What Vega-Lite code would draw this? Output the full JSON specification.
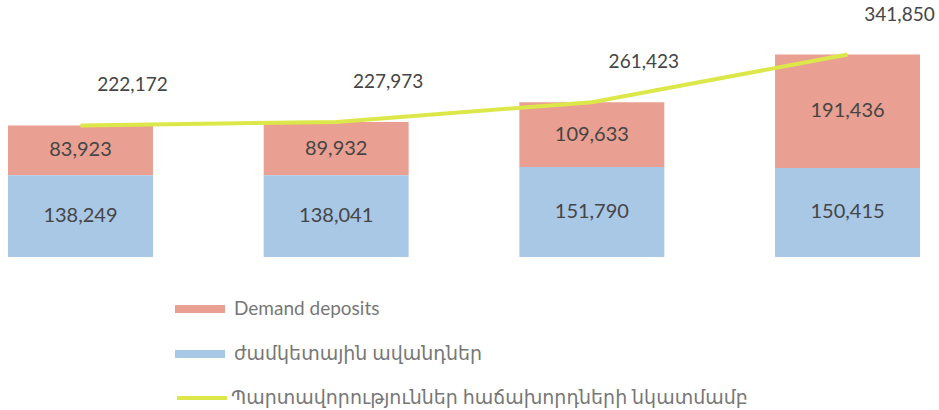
{
  "$schema": "https://vega.github.io/schema/vega-lite/v6.json",
  "width": 939,
  "height": 257,
  "autosize": {"type": "none"},
  "padding": {"left": 0, "top": 0, "right": 0, "bottom": 153},
  "background": "white",
  "config": {"view": {"stroke": null}, "font": "Lato"},
  "datasets": {
    "bars": [
      {"period": "1", "series": "Demand deposits", "ord": 2, "value": 83923},
      {"period": "1", "series": "ժամկետային ավանդներ", "ord": 1, "value": 138249},
      {"period": "2", "series": "Demand deposits", "ord": 2, "value": 89932},
      {"period": "2", "series": "ժամկետային ավանդներ", "ord": 1, "value": 138041},
      {"period": "3", "series": "Demand deposits", "ord": 2, "value": 109633},
      {"period": "3", "series": "ժամկետային ավանդներ", "ord": 1, "value": 151790},
      {"period": "4", "series": "Demand deposits", "ord": 2, "value": 191436},
      {"period": "4", "series": "ժամկետային ավանդներ", "ord": 1, "value": 150415}
    ],
    "totals": [
      {"period": "1", "total": 222172},
      {"period": "2", "total": 227973},
      {"period": "3", "total": 261423},
      {"period": "4", "total": 341850}
    ]
  },
  "layer": [
    {
      "data": {"name": "bars"},
      "mark": {"type": "bar"},
      "encoding": {
        "x": {"field": "period", "type": "nominal", "axis": null, "scale": {"range": [0, 928], "paddingInner": 0.433, "paddingOuter": 0.0313}},
        "y": {"field": "value", "type": "quantitative", "stack": "zero", "axis": null, "scale": {"domain": [0, 434000], "nice": false}},
        "fill": {
          "field": "series", "type": "nominal",
          "scale": {"domain": ["Demand deposits", "ժամկետային ավանդներ"], "range": ["#e9a092", "#a9c8e6"]},
          "legend": {
            "orient": "none", "legendX": 175, "legendY": 284, "title": null, "direction": "vertical",
            "symbolType": "M-1,-0.16H1V0.16H-1Z", "symbolSize": 2500, "symbolStrokeWidth": 0,
            "labelFontSize": 19, "labelColor": "#777777", "labelFont": "Lato, DejaVu Sans",
            "labelOffset": 9, "rowPadding": 10, "labelLimit": 700
          }
        },
        "order": {"field": "ord", "type": "quantitative"}
      }
    },
    {
      "data": {"name": "bars"},
      "mark": {"type": "text", "fontSize": 20, "color": "#454545", "font": "Lato"},
      "encoding": {
        "x": {"field": "period", "type": "nominal"},
        "y": {"field": "value", "type": "quantitative", "stack": "zero", "bandPosition": 0.5},
        "detail": {"field": "series"},
        "order": {"field": "ord", "type": "quantitative"},
        "text": {"field": "value", "type": "quantitative", "format": ",d"}
      }
    },
    {
      "data": {"name": "totals"},
      "mark": {"type": "line", "strokeWidth": 4},
      "encoding": {
        "x": {"field": "period", "type": "nominal"},
        "y": {"field": "total", "type": "quantitative"},
        "stroke": {
          "datum": "Պարտավորություններ հաճախորդների նկատմամբ", "type": "nominal",
          "scale": {"range": ["#dce84a"]},
          "legend": {
            "orient": "none", "legendX": 175, "legendY": 371, "title": null,
            "symbolType": "M-1,0H1", "symbolSize": 2500, "symbolStrokeWidth": 4,
            "labelFontSize": 19, "labelColor": "#777777", "labelFont": "Lato, DejaVu Sans",
            "labelOffset": 2, "labelLimit": 800
          }
        }
      }
    },
    {
      "data": {"name": "totals"},
      "mark": {"type": "text", "fontSize": 19, "color": "#454545", "font": "Lato", "dx": 52, "dy": -40},
      "encoding": {
        "x": {"field": "period", "type": "nominal"},
        "y": {"field": "total", "type": "quantitative"},
        "text": {"field": "total", "type": "quantitative", "format": ",d"}
      }
    }
  ]
}
